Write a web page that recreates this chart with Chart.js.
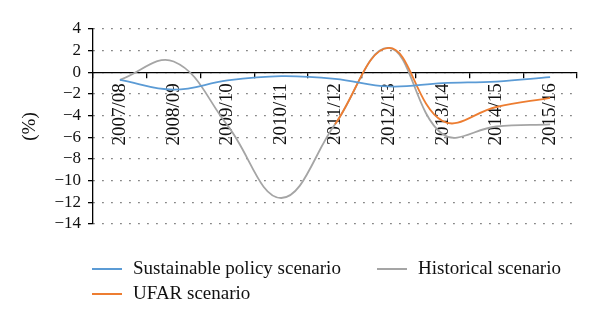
<!DOCTYPE html>
<html>
<head>
<meta charset="utf-8">
<script src="https://cdn.jsdelivr.net/npm/chart.js@4"></script>
<style>
  html, body { margin: 0; padding: 0; background: #fff; }
  #wrap { position: relative; width: 600px; height: 321px; }
  #c { position: absolute; left: 0; top: 0; }
  .lg { position: absolute; font-family: "Liberation Serif", "DejaVu Serif", serif; font-size: 19px; color: #111; white-space: nowrap; line-height: 22px; }
  .sw { position: absolute; height: 2px; width: 30px; }
</style>
</head>
<body>
<div id="wrap">
  <canvas id="c" width="600" height="321"></canvas>
  <div class="sw" style="left:92px; top:268px; background:#5B9BD5;"></div>
  <div class="lg" style="left:133px; top:257px;">Sustainable policy scenario</div>
  <div class="sw" style="left:377px; top:268px; background:#A5A5A5;"></div>
  <div class="lg" style="left:418px; top:257px;">Historical scenario</div>
  <div class="sw" style="left:92px; top:293px; background:#ED7D31;"></div>
  <div class="lg" style="left:133px; top:282px;">UFAR scenario</div>
</div>
<script>
const categories = ["2007/08","2008/09","2009/10","2010/11","2011/12","2012/13","2013/14","2014/15","2015/16"];
const sustainable = [-0.7, -1.6, -0.75, -0.35, -0.6, -1.3, -1.0, -0.85, -0.45];
const ufar = [null, null, null, null, -4.8, 2.25, -4.5, -3.2, -2.35];
const historical = [-0.7, 1.0, -4.9, -11.6, -4.8, 2.25, -5.7, -5.0, -4.8];
const yTicks = [4, 2, 0, -2, -4, -6, -8, -10, -12, -14];

const serif = "'Liberation Serif', 'DejaVu Serif', serif";

new Chart(document.getElementById('c'), {
  type: 'line',
  data: {
    labels: categories,
    datasets: [
      { label: 'Sustainable policy scenario', data: sustainable, borderColor: '#5B9BD5', borderWidth: 1.8, pointRadius: 0, tension: 0.4, order: 0 },
      { label: 'UFAR scenario', data: ufar, borderColor: '#ED7D31', borderWidth: 1.8, pointRadius: 0, tension: 0.4, order: 1 },
      { label: 'Historical scenario', data: historical, borderColor: '#A5A5A5', borderWidth: 1.8, pointRadius: 0, tension: 0.4, order: 2 }
    ]
  },
  options: {
    responsive: false,
    animation: false,
    events: [],
    layout: { padding: { left: 0, top: 29, right: 23, bottom: 97 } },
    plugins: { legend: { display: false }, tooltip: { enabled: false } },
    scales: {
      x: {
        type: 'category',
        position: { y: 0 },
        offset: true,
        grid: { display: true, drawOnChartArea: false, drawTicks: true, tickLength: 5, color: '#000', lineWidth: 1.3, offset: true, tickBorderDash: [] },
        border: { display: true, color: '#000', width: 1.3 },
        ticks: { color: '#111', font: { family: serif, size: 19 }, maxRotation: 90, minRotation: 90, padding: 6, autoSkip: false }
      },
      y: {
        min: -14, max: 4,
        afterBuildTicks: (s) => { s.ticks = yTicks.map(v => ({ value: v })); },
        afterFit: (s) => { s.width = 93; },
        grid: { display: true, drawOnChartArea: true, drawTicks: true, tickLength: 5, color: '#555', lineWidth: 1.3, borderDash: [1.3, 7.7], tickColor: '#000', tickBorderDash: [], tickWidth: 1.3 },
        border: { display: true, color: '#000', width: 1.3, dash: [1.3, 7.7] },
        ticks: { color: '#111', font: { family: serif, size: 17 }, padding: 7, autoSkip: false,
          callback: (v) => String(v).replace('-', '\u2212') },
        title: { display: true, text: '(%)', color: '#111', font: { family: serif, size: 19 }, padding: { top: 19, bottom: 0 } }
      }
    }
  }
});
</script>
</body>
</html>
